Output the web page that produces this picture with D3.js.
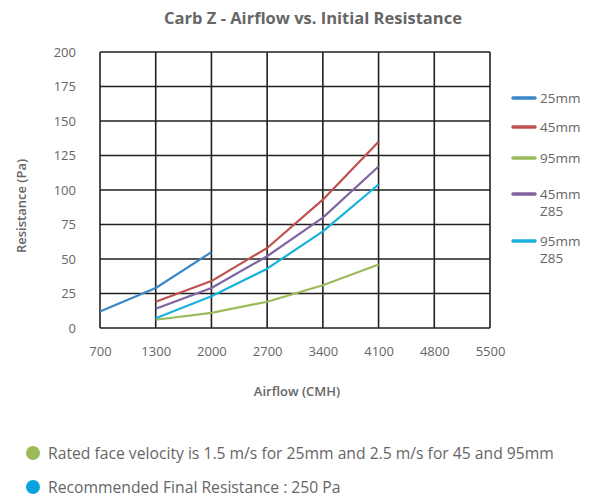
<!DOCTYPE html>
<html>
<head>
<meta charset="utf-8">
<script src="https://cdn.jsdelivr.net/npm/d3@7"></script>
<style>
  body { margin: 0; background: #fff; }
  svg { display: block; font-family: "Open Sans", "Noto Sans", sans-serif; }
</style>
</head>
<body>
<div id="chart"></div>
<script>
// airflow categories (CMH) and resistance ticks
const airflow = [700, 1300, 2000, 2700, 3400, 4100, 4800, 5500];
const resistanceTicks = [0, 25, 50, 75, 100, 125, 150, 175, 200];

// series values (Pa)
const series25 = [[700, 12], [1300, 29], [2000, 55]];
const series45 = [[1300, 19], [2000, 34], [2700, 58], [3400, 93], [4100, 135]];
const series95 = [[1300, 6], [2000, 11], [2700, 19], [3400, 31], [4100, 46]];
const series45z = [[1300, 14], [2000, 29], [2700, 52], [3400, 80], [4100, 117]];
const series95z = [[1300, 7], [2000, 23], [2700, 43], [3400, 70], [4100, 104]];

const seriesNames = ['25mm', '45mm', '95mm', '45mm\nZ85', '95mm\nZ85'];
const seriesColors = ['#3a88c9', '#c0504d', '#9bbb59', '#8064a2', '#17b2dc'];

const notes = [
  'Rated face velocity is 1.5 m/s for 25mm and 2.5 m/s for 45 and 95mm',
  'Recommended Final Resistance : 250 Pa',
];
const noteColors = ['#9bbb59', '#0aa3e0'];

const width = 598;
const height = 496;
const margin = { top: 52, left: 100, right: 108, bottom: 168 };
const textColor = '#666';

const svg = d3.select('#chart')
  .append('svg')
  .attr('width', width)
  .attr('height', height);

const x = d3.scalePoint()
  .domain(airflow)
  .range([margin.left, width - margin.right]);

const y = d3.scaleLinear()
  .domain([0, 200])
  .range([height - margin.bottom, margin.top]);

svg.append('text')
  .attr('x', 313)
  .attr('y', 24)
  .attr('text-anchor', 'middle')
  .attr('font-size', 16.5)
  .attr('font-weight', 700)
  .attr('fill', textColor)
  .text('Carb Z - Airflow vs. Initial Resistance');

// grid
const grid = svg.append('g')
  .attr('stroke', '#231f20')
  .attr('stroke-width', 1.6);

grid.selectAll('.vline')
  .data(airflow)
  .join('line')
  .attr('class', 'vline')
  .attr('x1', d => x(d))
  .attr('x2', d => x(d))
  .attr('y1', y(0))
  .attr('y2', y(200));

grid.selectAll('.hline')
  .data(resistanceTicks)
  .join('line')
  .attr('class', 'hline')
  .attr('x1', x(700))
  .attr('x2', x(5500))
  .attr('y1', d => y(d))
  .attr('y2', d => y(d));

// y axis labels
const yAxis = svg.append('g')
  .attr('transform', `translate(${margin.left - 24},0)`)
  .call(d3.axisLeft(y).tickValues(resistanceTicks).tickSize(0).tickPadding(0));
yAxis.select('.domain').remove();
yAxis.selectAll('text')
  .attr('font-size', 13)
  .attr('font-family', '"Open Sans", sans-serif')
  .attr('fill', textColor);

// x axis labels
const xAxis = svg.append('g')
  .attr('transform', `translate(0,${y(0) + 19})`)
  .call(d3.axisBottom(x).tickSize(0).tickPadding(0));
xAxis.select('.domain').remove();
xAxis.selectAll('text')
  .attr('font-size', 13)
  .attr('font-family', '"Open Sans", sans-serif')
  .attr('fill', textColor);

svg.append('text')
  .attr('transform', `translate(26,${(y(0) + y(200)) / 2 + 16}) rotate(-90)`)
  .attr('text-anchor', 'middle')
  .attr('font-size', 13)
  .attr('font-weight', 600)
  .attr('fill', textColor)
  .text('Resistance (Pa)');

svg.append('text')
  .attr('x', 297)
  .attr('y', 396)
  .attr('text-anchor', 'middle')
  .attr('font-size', 13)
  .attr('font-weight', 600)
  .attr('fill', textColor)
  .text('Airflow (CMH)');

// lines
const line = d3.line()
  .x(d => x(d[0]))
  .y(d => y(d[1]));

const allSeries = [series25, series45, series95, series45z, series95z];

svg.append('g')
  .selectAll('path')
  .data(allSeries)
  .join('path')
  .attr('d', line)
  .attr('fill', 'none')
  .attr('stroke', (d, i) => seriesColors[i])
  .attr('stroke-width', 2.2)
  .attr('stroke-linejoin', 'round');

// legend
const legendY = [98, 127, 158, 194, 241];
const legend = svg.append('g')
  .selectAll('g')
  .data(seriesNames)
  .join('g')
  .attr('transform', (d, i) => `translate(513,${legendY[i]})`);

legend.append('line')
  .attr('x1', 0)
  .attr('x2', 22)
  .attr('stroke', (d, i) => seriesColors[i])
  .attr('stroke-width', 3.5)
  .attr('stroke-linecap', 'round');

legend.append('text')
  .attr('x', 27)
  .attr('y', 5)
  .attr('font-size', 13.5)
  .attr('fill', textColor)
  .selectAll('tspan')
  .data(d => d.split('\n'))
  .join('tspan')
  .attr('x', 27)
  .attr('dy', (d, i) => (i ? 17 : 0))
  .text(d => d);

// footnotes
const note = svg.append('g')
  .selectAll('g')
  .data(notes)
  .join('g')
  .attr('transform', (d, i) => `translate(33,${453 + i * 34})`);

note.append('circle')
  .attr('r', 7)
  .attr('fill', (d, i) => noteColors[i]);

note.append('text')
  .attr('x', 15)
  .attr('y', 5.5)
  .attr('font-size', 15.7)
  .attr('fill', textColor)
  .text(d => d);
</script>
</body>
</html>
